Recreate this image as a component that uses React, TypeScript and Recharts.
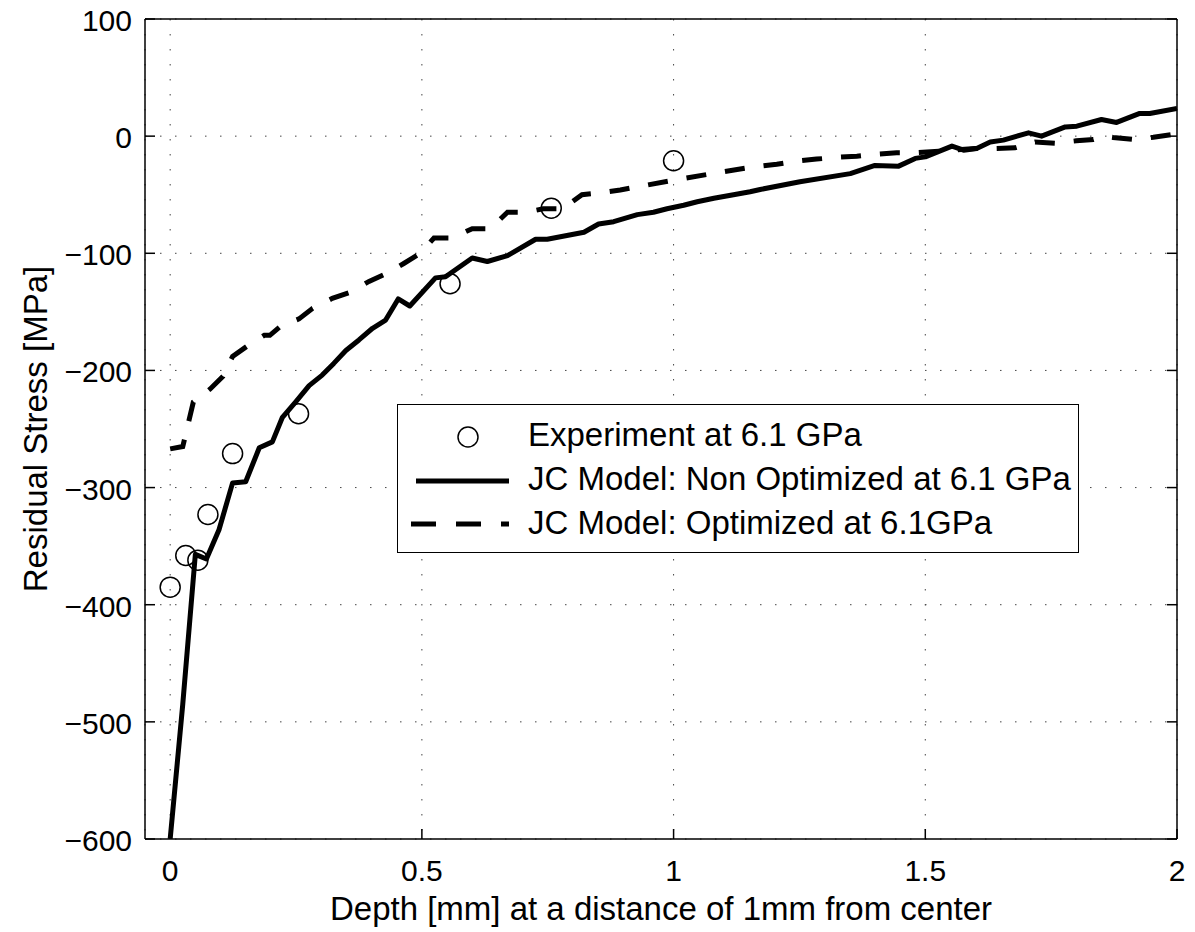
import {
  ComposedChart,
  Line,
  Scatter,
  XAxis,
  YAxis,
  CartesianGrid,
  Label,
} from "recharts";

// JC model, non optimized (solid)
const solidDepth = [
  0, 0.025, 0.05, 0.072, 0.097, 0.124, 0.15, 0.177, 0.203, 0.223, 0.249, 0.276,
  0.302, 0.325, 0.349, 0.375, 0.402, 0.428, 0.453, 0.476, 0.527, 0.547, 0.6,
  0.63, 0.67, 0.726, 0.749, 0.822, 0.851, 0.881, 0.928, 0.96, 0.987, 1.02,
  1.047, 1.08, 1.119, 1.152, 1.172, 1.251, 1.351, 1.4, 1.447, 1.48, 1.5, 1.553,
  1.576, 1.602, 1.629, 1.655, 1.705, 1.731, 1.778, 1.801, 1.85, 1.88, 1.926,
  1.946, 2.0,
];
const solidStress = [
  -600, -485, -357, -361, -336, -296, -295, -266, -261, -240, -227, -213, -204,
  -194, -183, -174, -164, -157, -139, -145, -121, -120, -104, -107, -102, -88,
  -88, -82, -75, -73, -67, -65, -62, -59, -56, -53, -50, -47.5, -45.5, -39, -32,
  -25, -25.6, -19, -17.7, -8.5, -12, -10.5, -5, -3.4, 2.8, 0, 7.9, 8.5, 14.2,
  11.7, 19.4, 19.4, 23.6,
];

// JC model, optimized (dashed)
const optDepth = [
  0, 0.025, 0.046, 0.079, 0.105, 0.124, 0.157, 0.187, 0.198, 0.22, 0.256, 0.283,
  0.322, 0.359, 0.395, 0.431, 0.464, 0.497, 0.524, 0.56, 0.6, 0.636, 0.67,
  0.706, 0.741, 0.779, 0.818, 0.855, 0.894, 1.0, 1.086, 1.152, 1.205, 1.245,
  1.284, 1.324, 1.364, 1.404, 1.443, 1.48, 1.54, 1.599, 1.638, 1.678, 1.718,
  1.758, 1.8, 1.834, 1.855, 1.873, 1.913, 1.953, 2.0,
];
const optStress = [
  -267, -265, -227, -216, -205, -188, -178, -170, -170, -162, -156, -147,
  -138.5, -133, -124, -117, -108.7, -100, -87, -87, -79, -79, -65, -65, -62,
  -62, -50, -48.4, -46, -37.6, -31.3, -26.7, -24, -21.3, -19.6, -18.1, -17.1,
  -15.4, -14.2, -14.2, -12.5, -10.5, -10.5, -10, -5, -6, -4, -2.8, 0, -1.1,
  -2.8, -1, 2,
];

// experiment
const expDepth = [0, 0.031, 0.055, 0.075, 0.124, 0.255, 0.556, 0.757, 1.0];
const expStress = [-385, -358, -362, -323, -271, -237, -126, -61.5, -21];

const xTicks = [0, 0.5, 1, 1.5, 2];
const xTickLabels = ["0", "0.5", "1", "1.5", "2"];
const yTicks = [-600, -500, -400, -300, -200, -100, 0, 100];

const legendLabels = [
  "Experiment at 6.1 GPa",
  "JC Model: Non Optimized at 6.1 GPa",
  "JC Model: Optimized at 6.1GPa",
];

const solidData = solidDepth.map((x, i) => ({ x, y: solidStress[i] }));
const optData = optDepth.map((x, i) => ({ x, y: optStress[i] }));
const expData = expDepth.map((x, i) => ({ x, y: expStress[i] }));

const FONT = '"Liberation Sans", Arial, Helvetica, sans-serif';
const DASH = "20 19";

function fmtY(v: number) {
  return v < 0 ? "\u2212" + Math.abs(v) : String(v);
}

function BottomTick(props: any) {
  const { x, y, payload } = props;
  const i = xTicks.indexOf(payload.value);
  return (
    <g>
      <line x1={x} y1={y} x2={x} y2={y - 10} stroke="#000" strokeWidth={1.5} />
      <text x={x} y={y + 42} textAnchor="middle" fontSize={30} fontFamily={FONT} fill="#000">
        {i >= 0 ? xTickLabels[i] : payload.value}
      </text>
    </g>
  );
}

function TopTick(props: any) {
  const { x, y } = props;
  return <line x1={x} y1={y} x2={x} y2={y + 10} stroke="#000" strokeWidth={1.5} />;
}

function LeftTick(props: any) {
  const { x, y, payload } = props;
  return (
    <g>
      <line x1={x} y1={y} x2={x + 10} y2={y} stroke="#000" strokeWidth={1.5} />
      <text x={x - 13} y={y} dy={12} textAnchor="end" fontSize={30} fontFamily={FONT} fill="#000">
        {fmtY(payload.value)}
      </text>
    </g>
  );
}

function RightTick(props: any) {
  const { x, y } = props;
  return <line x1={x} y1={y} x2={x - 10} y2={y} stroke="#000" strokeWidth={1.5} />;
}

function Circle(props: any) {
  const { cx, cy } = props;
  return <circle cx={cx} cy={cy} r={10} fill="none" stroke="#000" strokeWidth={1.5} />;
}

function ChartLegend() {
  return (
    <div
      style={{
        position: "absolute",
        left: 397,
        top: 404,
        width: 682,
        height: 149,
        boxSizing: "border-box",
        border: "1.5px solid #000",
        background: "#fff",
      }}
    >
      <svg width={680} height={146} style={{ display: "block" }}>
        <circle cx={70} cy={32} r={10} fill="none" stroke="#000" strokeWidth={1.5} />
        <line x1={18} y1={76} x2={111} y2={76} stroke="#000" strokeWidth={5} />
        <line x1={13} y1={119} x2={111} y2={119} stroke="#000" strokeWidth={5} strokeDasharray="25 20" />
        {legendLabels.map((t, i) => (
          <text key={t} x={130} y={41 + i * 44} fontSize={33} fontFamily={FONT} fill="#000">
            {t}
          </text>
        ))}
      </svg>
    </div>
  );
}

export default function App() {
  return (
    <div
      style={{
        position: "absolute",
        left: 0,
        top: 0,
        width: 1195,
        height: 932,
        background: "#fff",
        fontFamily: FONT,
      }}
    >
      <ComposedChart width={1195} height={932} margin={{ top: 0, right: 0, bottom: 0, left: 0 }}>
        <CartesianGrid stroke="#444" strokeDasharray="1.5 13.5" />
        <XAxis
          dataKey="x"
          type="number"
          domain={[-0.05, 2]}
          ticks={xTicks}
          interval={0}
          allowDataOverflow
          height={93}
          tickSize={0}
          tickMargin={0}
          tickLine={false}
          axisLine={{ stroke: "#000", strokeWidth: 1.5 }}
          tick={<BottomTick />}
        >
          <Label
            content={(p: any) => {
              const vb = p.viewBox || {};
              return (
                <text
                  x={vb.x + vb.width / 2}
                  y={vb.y + 81}
                  textAnchor="middle"
                  fontSize={33}
                  fontFamily={FONT}
                  fill="#000"
                >
                  Depth [mm] at a distance of 1mm from center
                </text>
              );
            }}
          />
        </XAxis>
        <XAxis
          xAxisId="top"
          orientation="top"
          type="number"
          domain={[-0.05, 2]}
          ticks={xTicks}
          interval={0}
          allowDataOverflow
          height={19}
          tickSize={0}
          tickMargin={0}
          tickLine={false}
          axisLine={{ stroke: "#000", strokeWidth: 1.5 }}
          tick={<TopTick />}
        />
        <YAxis
          type="number"
          domain={[-600, 100]}
          ticks={yTicks}
          interval={0}
          allowDataOverflow
          width={145}
          tickSize={0}
          tickMargin={0}
          tickLine={false}
          axisLine={{ stroke: "#000", strokeWidth: 1.5 }}
          tick={<LeftTick />}
        >
          <Label
            content={(p: any) => {
              const vb = p.viewBox || {};
              const cx = 47;
              const cy = vb.y + vb.height / 2;
              return (
                <text
                  x={cx}
                  y={cy}
                  transform={`rotate(-90 ${cx} ${cy})`}
                  textAnchor="middle"
                  fontSize={33}
                  fontFamily={FONT}
                  fill="#000"
                >
                  Residual Stress [MPa]
                </text>
              );
            }}
          />
        </YAxis>
        <YAxis
          yAxisId="right"
          orientation="right"
          type="number"
          domain={[-600, 100]}
          ticks={yTicks}
          interval={0}
          allowDataOverflow
          width={18}
          tickSize={0}
          tickMargin={0}
          tickLine={false}
          axisLine={{ stroke: "#000", strokeWidth: 1.5 }}
          tick={<RightTick />}
        />
        <Line
          data={solidData}
          dataKey="y"
          type="linear"
          stroke="#000"
          strokeWidth={5}
          strokeLinejoin="round"
          dot={false}
          activeDot={false}
          isAnimationActive={false}
        />
        <Line
          data={optData}
          dataKey="y"
          type="linear"
          stroke="#000"
          strokeWidth={5}
          strokeDasharray={DASH}
          dot={false}
          activeDot={false}
          isAnimationActive={false}
        />
        <Scatter data={expData} dataKey="y" shape={<Circle />} isAnimationActive={false} />
      </ComposedChart>
      <ChartLegend />
    </div>
  );
}
